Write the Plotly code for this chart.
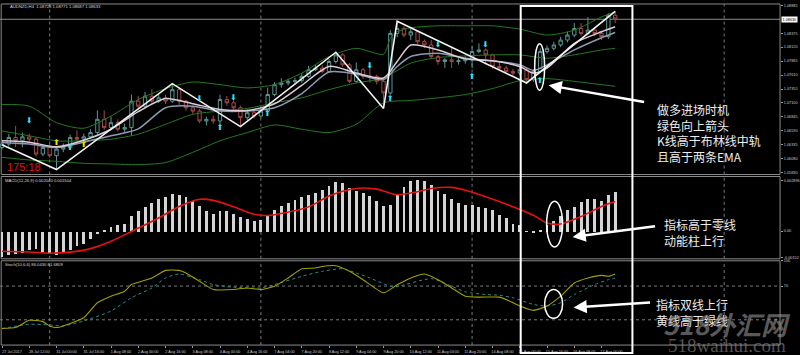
import plotly.graph_objects as go

# ---------------- data ----------------
OPEN = [1.06287, 1.06348, 1.06469, 1.06408, 1.06481, 1.06438, 1.06167, 1.06287, 1.06136, 1.06257,
        1.06287, 1.06469, 1.06438, 1.06481, 1.06559, 1.06801, 1.06650, 1.06740, 1.06620, 1.06650,
        1.07133, 1.07042, 1.07224, 1.07133, 1.07193, 1.07133, 1.07344, 1.07133, 1.07012, 1.06952,
        1.06771, 1.06801, 1.06771, 1.07163, 1.07103, 1.07012, 1.06831, 1.06922, 1.06861, 1.06952,
        1.07254, 1.07435, 1.07465, 1.07495, 1.07507, 1.07586, 1.07707, 1.07737, 1.07677, 1.07858,
        1.07979, 1.07797, 1.07495, 1.07707, 1.07586, 1.07586, 1.07495, 1.07284, 1.08371, 1.08462,
        1.08341, 1.08401, 1.08220, 1.08160, 1.07948, 1.07858, 1.07888, 1.07858, 1.07870, 1.07888,
        1.08039, 1.08069, 1.07979, 1.07767, 1.07737, 1.07677, 1.07646, 1.07707, 1.07526, 1.07677,
        1.08039, 1.08099, 1.08160, 1.08250, 1.08341, 1.08462, 1.08371, 1.08432, 1.08371, 1.08311,
        1.08703]
HIGH = [1.06420, 1.06530, 1.06680, 1.06560, 1.06540, 1.06480, 1.06330, 1.06340, 1.06300, 1.06360,
        1.06520, 1.06600, 1.06540, 1.06620, 1.06964, 1.06964, 1.06850, 1.06800, 1.06720, 1.07254,
        1.07230, 1.07300, 1.07350, 1.07260, 1.07250, 1.07453, 1.07380, 1.07160, 1.07050, 1.06990,
        1.06850, 1.06870, 1.07250, 1.07230, 1.07150, 1.07050, 1.06980, 1.06970, 1.07010, 1.07380,
        1.07480, 1.07550, 1.07540, 1.07560, 1.07640, 1.07780, 1.07800, 1.07790, 1.07900, 1.08027,
        1.08010, 1.07830, 1.07840, 1.07740, 1.07800, 1.07620, 1.07530, 1.08430, 1.08595, 1.08500,
        1.08490, 1.08420, 1.08260, 1.08250, 1.07980, 1.07920, 1.08130, 1.07930, 1.07950, 1.08130,
        1.08190, 1.08100, 1.08000, 1.07830, 1.07780, 1.07720, 1.07760, 1.07740, 1.07720, 1.08100,
        1.08150, 1.08220, 1.08310, 1.08400, 1.08560, 1.08560, 1.08670, 1.08470, 1.08420, 1.08740,
        1.08776]
LOW = [1.06250, 1.06300, 1.06290, 1.06290, 1.06400, 1.06120, 1.06130, 1.06100, 1.05883, 1.06200,
       1.06260, 1.06400, 1.06410, 1.06450, 1.06520, 1.06610, 1.06600, 1.06580, 1.06560, 1.06499,
       1.06980, 1.07000, 1.07080, 1.07100, 1.07080, 1.07100, 1.07060, 1.06960, 1.06900, 1.06730,
       1.06690, 1.06720, 1.06700, 1.07050, 1.06960, 1.06668, 1.06790, 1.06820, 1.06830, 1.06920,
       1.07220, 1.07380, 1.07420, 1.07450, 1.07470, 1.07560, 1.07680, 1.07640, 1.07650, 1.07820,
       1.07760, 1.07460, 1.07470, 1.07540, 1.07470, 1.07440, 1.07000, 1.07250, 1.08300, 1.08300,
       1.08250, 1.08180, 1.08100, 1.07920, 1.07800, 1.07740, 1.07740, 1.07800, 1.07820, 1.07737,
       1.08010, 1.07800, 1.07730, 1.07690, 1.07640, 1.07600, 1.07610, 1.07465, 1.07490, 1.07640,
       1.08000, 1.08060, 1.08120, 1.08210, 1.08300, 1.08330, 1.08340, 1.08320, 1.08250, 1.08270,
       1.08560]
CLOSE = [1.06348, 1.06469, 1.06408, 1.06481, 1.06438, 1.06167, 1.06287, 1.06136, 1.06257, 1.06287,
         1.06469, 1.06438, 1.06481, 1.06559, 1.06801, 1.06650, 1.06740, 1.06620, 1.06650, 1.07133,
         1.07042, 1.07224, 1.07133, 1.07193, 1.07133, 1.07344, 1.07133, 1.07012, 1.06952, 1.06771,
         1.06801, 1.06771, 1.07163, 1.07103, 1.07012, 1.06831, 1.06922, 1.06861, 1.06952, 1.07254,
         1.07435, 1.07465, 1.07495, 1.07507, 1.07586, 1.07707, 1.07737, 1.07677, 1.07858, 1.07979,
         1.07797, 1.07495, 1.07707, 1.07586, 1.07586, 1.07495, 1.07284, 1.08371, 1.08462, 1.08341,
         1.08401, 1.08220, 1.08160, 1.07948, 1.07858, 1.07888, 1.07858, 1.07870, 1.07888, 1.08039,
         1.08069, 1.07979, 1.07767, 1.07737, 1.07677, 1.07646, 1.07707, 1.07526, 1.07677, 1.08039,
         1.08099, 1.08160, 1.08250, 1.08341, 1.08462, 1.08371, 1.08432, 1.08371, 1.08311, 1.08703,
         1.08637]
BARS = list(range(len(CLOSE)))

ZZ_IDX = [0, 8, 25, 35, 49, 56, 58, 77, 90]
ZZ_VAL = [1.06336, 1.05883, 1.07453, 1.06668, 1.08027, 1.07000, 1.08595, 1.07465, 1.08776]

BB_UP_IDX = [0, 4, 8, 12, 16, 20, 24, 28, 32, 36, 40, 44, 48, 52, 56, 57, 58, 60, 64, 68, 72, 76, 80, 84, 88, 90]
BB_UP = [1.07073, 1.07042, 1.06740, 1.06638, 1.06861, 1.07163, 1.07363, 1.07483, 1.07435, 1.07375,
         1.07435, 1.07646, 1.07948, 1.08099, 1.07991, 1.08281, 1.08401, 1.08474, 1.08510, 1.08510,
         1.08510, 1.08450, 1.08341, 1.08432, 1.08673, 1.08764]
BB_IDX = [0, 4, 8, 12, 16, 20, 24, 28, 32, 36, 40, 44, 48, 52, 56, 60, 64, 68, 72, 76, 80, 84, 88, 90]
BB_MID = [1.06589, 1.06499, 1.06408, 1.06408, 1.06438, 1.06529, 1.06710, 1.06891, 1.06952, 1.07000,
          1.07103, 1.07193, 1.07344, 1.07465, 1.07556, 1.07828, 1.07930, 1.07960, 1.07979, 1.07979,
          1.07918, 1.07979, 1.08069, 1.08099]
BB_LOW = [1.06106, 1.06058, 1.06034, 1.05997, 1.05985, 1.05973, 1.06010, 1.06197, 1.06408, 1.06559,
          1.06698, 1.06620, 1.06559, 1.06710, 1.07103, 1.07145, 1.07193, 1.07254, 1.07363, 1.07507,
          1.07544, 1.07495, 1.07435, 1.07405]

EMA_IDX = [0, 4, 8, 12, 16, 20, 24, 28, 32, 36, 40, 44, 48, 52, 56, 58, 60, 64, 68, 72, 76, 78, 80, 84, 88, 90]
EMA_FAST = [1.06408, 1.06384, 1.06299, 1.06420, 1.06620, 1.06940, 1.07181, 1.07085, 1.06982, 1.06964,
            1.07085, 1.07423, 1.07767, 1.07646, 1.07556, 1.07858, 1.08160, 1.08069, 1.07906, 1.07870,
            1.07767, 1.07646, 1.07737, 1.08190, 1.08401, 1.08492]
EMA_SLOW = [1.06378, 1.06348, 1.06287, 1.06384, 1.06499, 1.06626, 1.07012, 1.07042, 1.06952, 1.06952,
            1.07012, 1.07272, 1.07665, 1.07628, 1.07526, 1.07767, 1.07948, 1.08009, 1.07918, 1.07870,
            1.07797, 1.07695, 1.07797, 1.08069, 1.08293, 1.08389]

ARR_DN_IDX = [4, 29, 34, 54, 64, 71]
ARR_DN_VAL = [1.06771, 1.07163, 1.07193, 1.07767, 1.08160, 1.08160]
ARR_UP_IDX = [10, 32, 39, 57, 69, 79]
ARR_UP_VAL = [1.06275, 1.06638, 1.06891, 1.07163, 1.07574, 1.07507]
ARR_YEL_IDX = [8, 12]
ARR_YEL_VAL = [1.06360, 1.06336]

MACD_HIST = [-0.00143, -0.00134, -0.00130, -0.00124, -0.00105, -0.00100, -0.00119, -0.00130, -0.00134, -0.00124,
             -0.00105, -0.00081, -0.00068, -0.00045, -0.00013, 0.00008, 0.00026, 0.00036, 0.00041, 0.00087,
             0.00115, 0.00138, 0.00164, 0.00183, 0.00196, 0.00215, 0.00209, 0.00196, 0.00175, 0.00143,
             0.00115, 0.00102, 0.00115, 0.00115, 0.00102, 0.00083, 0.00073, 0.00062, 0.00068, 0.00089,
             0.00121, 0.00143, 0.00164, 0.00181, 0.00196, 0.00209, 0.00220, 0.00239, 0.00258, 0.00281,
             0.00275, 0.00247, 0.00234, 0.00218, 0.00200, 0.00177, 0.00143, 0.00149, 0.00215, 0.00252,
             0.00290, 0.00296, 0.00290, 0.00265, 0.00233, 0.00215, 0.00186, 0.00162, 0.00149, 0.00149,
             0.00139, 0.00134, 0.00121, 0.00096, 0.00077, 0.00045, 0.00036, 0.00002, -0.00006, 0.00011,
             0.00036, 0.00058, 0.00088, 0.00121, 0.00139, 0.00168, 0.00183, 0.00186, 0.00177, 0.00209,
             0.00228]
SIG_IDX = [0, 4, 7, 10, 13, 16, 19, 23, 26, 29, 31, 34, 37, 39, 41, 45, 48, 52, 55, 58, 61, 63, 66, 68,
           73, 78, 80, 82, 85, 88, 90]
SIG_VAL = [-0.00115, -0.00119, -0.00126, -0.00120, -0.00100, -0.00058, -0.00002, 0.00075, 0.00140, 0.00181,
           0.00175, 0.00139, 0.00096, 0.00089, 0.00100, 0.00138, 0.00200, 0.00243, 0.00239, 0.00207,
           0.00224, 0.00243, 0.00249, 0.00233, 0.00168, 0.00090, 0.00046, 0.00040, 0.00083, 0.00140,
           0.00168]

K_IDX = [0, 2, 4, 6, 7, 8, 9, 12, 14, 16, 18, 19, 22, 24, 26, 27, 29, 31, 34, 36, 38, 40, 42, 44, 46, 47,
         49, 51, 53, 56, 58, 60, 62, 64, 66, 68, 70, 73, 74, 76, 78, 80, 82, 84, 86, 88, 89, 90]
K_VAL = [19.6, 20.8, 29.4, 27.8, 22.7, 20.8, 22.7, 32.5, 50.2, 58.0, 63.9, 71.8, 79.6, 88.6, 88.6, 85.5,
         75.7, 65.9, 65.9, 67.8, 65.9, 69.8, 79.6, 90.6, 91.4, 93.3, 94.1, 87.5, 77.6, 62.0, 71.5, 79.6,
         84.3, 77.6, 67.8, 58.0, 56.9, 56.9, 54.1, 46.3, 41.2, 46.3, 58.0, 73.7, 79.6, 82.7, 81.6, 84.3]
D_IDX = [0, 4, 7, 9, 12, 16, 19, 22, 24, 26, 29, 31, 34, 38, 40, 44, 47, 50, 52, 54, 57, 58, 63, 66, 68,
         71, 73, 75, 78, 80, 82, 84, 87, 89, 90]
D_VAL = [19.6, 24.7, 23.9, 22.7, 28.6, 40.4, 56.1, 67.8, 79.6, 84.3, 77.6, 71.8, 68.6, 67.8, 71.8, 81.6,
         87.5, 90.6, 85.5, 79.6, 69.8, 69.4, 78.8, 69.8, 63.1, 60.0, 59.2, 56.1, 48.2, 46.3, 50.2, 60.0,
         71.8, 77.6, 79.6]

X_TICK_IDX = [0, 4, 8, 12, 16, 20, 24, 28, 32, 36, 40, 44, 48, 52, 56, 60, 64, 68, 72, 76, 80, 84, 88]
X_TICK_TXT = ["27 Jul 2017", "28 Jul 12:00", "31 Jul 00:00", "31 Jul 16:00", "1 Aug 08:00", "2 Aug 00:00",
              "2 Aug 16:00", "3 Aug 08:00", "4 Aug 00:00", "4 Aug 16:00", "7 Aug 04:00", "7 Aug 20:00",
              "8 Aug 12:00", "9 Aug 04:00", "9 Aug 20:00", "10 Aug 12:00", "11 Aug 04:00", "11 Aug 20:00",
              "14 Aug 08:00", "15 Aug 00:00", "15 Aug 16:00", "16 Aug 08:00", "17 Aug 00:00"]
PRICE_TICKS = [1.08885, 1.08375, 1.08120, 1.07865, 1.07610, 1.07355, 1.07100, 1.06845, 1.06590, 1.06335,
               1.06080, 1.05830]
PRICE_TICK_TXT = ["1.08885", "1.08375", "1.08120", "1.07865", "1.07610", "1.07355", "1.07100", "1.06845",
                  "1.06590", "1.06335", "1.06080", "1.05830"]
LAST_PRICE = 1.08630
MACD_TICKS = [0.002896, 0.0, -0.00152]
MACD_TICK_TXT = ["0.002896", "0.00", "-0.00152"]
STO_TICKS = [100, 70]
STO_LEVELS = [70, 30]
GRID_IDX = [7, 38, 69, 106]

# ---------------- geometry helpers ----------------
W, H = 800, 355
BAR_PX, BAR0_PX = 6.83, 2.0


def py(p):
    return 1 - p / H


def ix(p):
    return (p - BAR0_PX) / BAR_PX


XDOM = [0, 782 / W]
DOM_MAIN = [py(174), py(2)]
DOM_MACD = [py(259), py(176)]
DOM_STO = [py(346), py(261)]

TXT = "#c8c8c8"
TF = dict(family="Liberation Sans", size=3.8, color=TXT)

fig = go.Figure()

# ---- main panel ----
for up_idx, vals in [(BB_UP_IDX, BB_UP), (BB_IDX, BB_MID), (BB_IDX, BB_LOW)]:
    fig.add_trace(go.Scatter(x=up_idx, y=vals, mode="lines", xaxis="x", yaxis="y",
                             line=dict(color="#237a23", width=1, shape="spline", smoothing=0.7),
                             hoverinfo="skip", showlegend=False))
fig.add_trace(go.Scatter(x=EMA_IDX, y=EMA_SLOW, mode="lines", xaxis="x", yaxis="y",
                         line=dict(color="#8e9ab2", width=1.5, shape="spline", smoothing=0.7),
                         hoverinfo="skip", showlegend=False))
fig.add_trace(go.Scatter(x=EMA_IDX, y=EMA_FAST, mode="lines", xaxis="x", yaxis="y",
                         line=dict(color="#dccbd8", width=1.5, shape="spline", smoothing=0.7),
                         hoverinfo="skip", showlegend=False))
fig.add_trace(go.Candlestick(x=BARS, open=OPEN, high=HIGH, low=LOW, close=CLOSE, xaxis="x", yaxis="y",
                             increasing=dict(line=dict(color="#5c9591", width=1), fillcolor="#000000"),
                             decreasing=dict(line=dict(color="#a84848", width=1), fillcolor="#000000"),
                             whiskerwidth=0, showlegend=False, hoverinfo="skip"))
fig.add_trace(go.Scatter(x=ZZ_IDX, y=ZZ_VAL, mode="lines", xaxis="x", yaxis="y",
                         line=dict(color="#f2f2f2", width=1.6), hoverinfo="skip", showlegend=False))
fig.add_trace(go.Scatter(x=ARR_DN_IDX, y=ARR_DN_VAL, mode="text", text=["⬇"] * len(ARR_DN_IDX),
                         xaxis="x", yaxis="y", textfont=dict(family="DejaVu Sans", size=8, color="#2fe4f4"),
                         hoverinfo="skip", showlegend=False))
fig.add_trace(go.Scatter(x=ARR_UP_IDX, y=ARR_UP_VAL, mode="text", text=["⬆"] * len(ARR_UP_IDX),
                         xaxis="x", yaxis="y", textfont=dict(family="DejaVu Sans", size=8, color="#2fe4f4"),
                         hoverinfo="skip", showlegend=False))
fig.add_trace(go.Scatter(x=ARR_YEL_IDX, y=ARR_YEL_VAL, mode="text", text=["⬆"] * len(ARR_YEL_IDX),
                         xaxis="x", yaxis="y", textfont=dict(family="DejaVu Sans", size=8, color="#f0e000"),
                         hoverinfo="skip", showlegend=False))

# ---- MACD panel ----
fig.add_trace(go.Bar(x=BARS, y=MACD_HIST, xaxis="x", yaxis="y2", width=0.42,
                     marker=dict(color="#d4d4d4", line=dict(width=0)), hoverinfo="skip", showlegend=False))
fig.add_trace(go.Scatter(x=SIG_IDX, y=SIG_VAL, mode="lines", xaxis="x", yaxis="y2",
                         line=dict(color="#e81010", width=1.6, shape="spline", smoothing=0.8),
                         hoverinfo="skip", showlegend=False))

# ---- Stochastic panel ----
fig.add_trace(go.Scatter(x=D_IDX, y=D_VAL, mode="lines", xaxis="x", yaxis="y3",
                         line=dict(color="#2f8c8c", width=1, dash="dot", shape="spline", smoothing=0.6),
                         hoverinfo="skip", showlegend=False))
fig.add_trace(go.Scatter(x=K_IDX, y=K_VAL, mode="lines", xaxis="x", yaxis="y3",
                         line=dict(color="#a0a000", width=1.1, shape="spline", smoothing=0.5),
                         hoverinfo="skip", showlegend=False))

shapes = []
for top, bot in [(2, 174), (176, 259), (261, 346)]:
    shapes.append(dict(type="rect", xref="paper", yref="paper", x0=0.0015, x1=XDOM[1],
                       y0=py(bot), y1=py(top), line=dict(color="#8a8a8a", width=1), layer="below"))
for g in GRID_IDX:
    for dom in (DOM_MAIN, DOM_MACD, DOM_STO):
        shapes.append(dict(type="line", xref="x", yref="paper", x0=g, x1=g, y0=dom[0], y1=dom[1],
                           line=dict(color="#7a7a7a", width=1, dash="dot"), layer="below"))
for lv in STO_LEVELS:
    shapes.append(dict(type="line", xref="paper", yref="y3", x0=0, x1=XDOM[1], y0=lv, y1=lv,
                       line=dict(color="#7a7a7a", width=1, dash="dot"), layer="below"))
shapes.append(dict(type="line", xref="paper", yref="y", x0=0, x1=XDOM[1], y0=LAST_PRICE, y1=LAST_PRICE,
                   line=dict(color="#8a8a8a", width=1), layer="below"))
shapes.append(dict(type="rect", xref="x", yref="paper", x0=ix(522), x1=ix(634), y0=py(354), y1=py(4),
                   line=dict(color="#ffffff", width=2)))
for (xa, xb, ya, yb) in [(536, 546, 42, 89), (548, 564, 201, 247), (546, 564, 290, 319)]:
    shapes.append(dict(type="circle", xref="x", yref="paper", x0=ix(xa), x1=ix(xb), y0=py(yb), y1=py(ya),
                       line=dict(color="#ffffff", width=1.5)))

ann = []
CJK = dict(family="Noto Sans CJK SC", size=12, color="#ececec")
ann.append(dict(xref="paper", yref="paper", x=657 / W, y=py(98), xanchor="left", yanchor="top",
                text="做多进场时机<br>绿色向上箭头<br>K线高于布林线中轨<br>且高于两条EMA",
                showarrow=False, align="left", font=CJK))
ann.append(dict(xref="paper", yref="paper", x=664 / W, y=py(214), xanchor="left", yanchor="top",
                text="指标高于零线<br>动能柱上行", showarrow=False, align="left", font=CJK))
ann.append(dict(xref="paper", yref="paper", x=656 / W, y=py(294), xanchor="left", yanchor="top",
                text="指标双线上行<br>黄线高于绿线", showarrow=False, align="left", font=CJK))
for (hx, hy, tx, ty) in [(550, 84, 647, 101), (574, 237, 658, 226), (575, 308, 653, 303)]:
    ann.append(dict(xref="paper", yref="paper", x=hx / W, y=py(hy), ax=tx - hx, ay=ty - hy,
                    text="", showarrow=True, arrowhead=2, arrowsize=1.1, arrowwidth=2.4,
                    arrowcolor="#ffffff"))
ann.append(dict(xref="paper", yref="paper", x=8 / W, y=py(5), xanchor="left", yanchor="middle",
                text="AUDNZD,H4  1.08728 1.08771 1.08687 1.08633", showarrow=False,
                font=dict(family="Liberation Sans", size=4.2, color="#d8d8d8")))
ann.append(dict(xref="paper", yref="paper", x=3 / W, y=py(180), xanchor="left", yanchor="middle",
                text="MACD(12,26,9) 0.002040 0.001504", showarrow=False,
                font=dict(family="Liberation Sans", size=4.2, color="#d8d8d8")))
ann.append(dict(xref="paper", yref="paper", x=3 / W, y=py(264.5), xanchor="left", yanchor="middle",
                text="Stoch(10,6,6) 86.0430 81.6809", showarrow=False,
                font=dict(family="Liberation Sans", size=4.2, color="#d8d8d8")))
ann.append(dict(xref="paper", yref="paper", x=5 / W, y=py(166), xanchor="left", yanchor="middle",
                text="175:18", showarrow=False,
                font=dict(family="Liberation Sans", size=11, color="#e01010")))
ann.append(dict(xref="paper", yref="y", x=783 / W, y=LAST_PRICE, xanchor="left", yanchor="middle",
                text="1.08630", showarrow=False, bgcolor="#ffffff", borderpad=0.5,
                font=dict(family="Liberation Sans", size=3.8, color="#000000")))
ann.append(dict(xref="paper", yref="paper", x=729 / W, y=py(324), xanchor="center", yanchor="middle",
                text="<b><i>518外汇网</i></b>", showarrow=False,
                font=dict(family="Noto Sans CJK SC", size=26, color="rgba(150,150,150,0.6)")))
ann.append(dict(xref="paper", yref="paper", x=729 / W, y=py(346), xanchor="center", yanchor="middle",
                text="518waihui.com", showarrow=False,
                font=dict(family="Liberation Serif", size=19, color="rgba(140,140,140,0.6)")))

axis_common = dict(showgrid=False, zeroline=False, fixedrange=True)
fig.update_layout(
    width=W, height=H, margin=dict(l=0, r=0, t=0, b=0),
    paper_bgcolor="#000000", plot_bgcolor="#000000",
    showlegend=False, bargap=0,
    xaxis=dict(domain=XDOM, range=[ix(0), ix(782)], anchor="y3", tickvals=X_TICK_IDX, ticktext=X_TICK_TXT,
               tickfont=TF, ticks="outside", ticklen=2, tickcolor="#9a9a9a", ticklabelshift=10,
               ticklabelstandoff=0, showline=False, rangeslider=dict(visible=False), **axis_common),
    yaxis=dict(domain=DOM_MAIN, range=[1.05792, 1.08909], side="right", anchor="x",
               tickvals=PRICE_TICKS, ticktext=PRICE_TICK_TXT, tickfont=TF, ticks="outside", ticklen=2,
               tickcolor="#9a9a9a", showline=False, **axis_common),
    yaxis2=dict(domain=DOM_MACD, range=[-0.00158, 0.00311], side="right", anchor="x",
                tickvals=MACD_TICKS, ticktext=MACD_TICK_TXT, tickfont=TF, ticks="outside", ticklen=2,
                tickcolor="#9a9a9a", showline=False, **axis_common),
    yaxis3=dict(domain=DOM_STO, range=[0, 100], side="right", anchor="x",
                tickvals=STO_TICKS, ticktext=[str(v) for v in STO_TICKS], tickfont=TF, ticks="outside",
                ticklen=2, tickcolor="#9a9a9a", showline=False, **axis_common),
    shapes=shapes, annotations=ann,
)

fig.write_html("out.html")
